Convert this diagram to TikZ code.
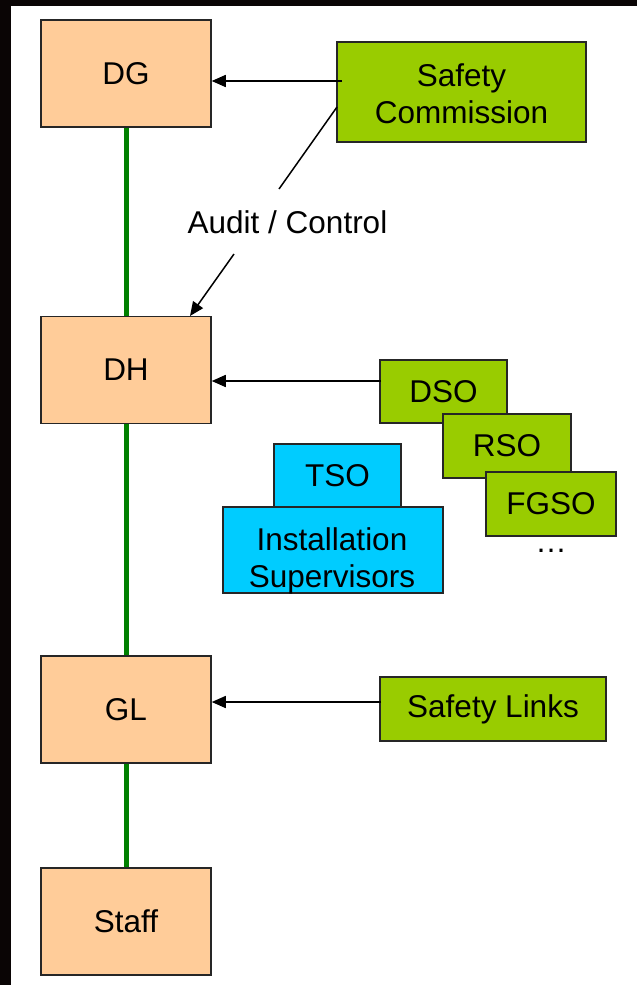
\documentclass[tikz,border=0pt]{standalone}
\usepackage{fontspec}
\setmainfont{Liberation Sans}
\usetikzlibrary{arrows.meta}
\definecolor{peach}{HTML}{FFCC99}
\definecolor{lime}{HTML}{99CC00}
\definecolor{skyc}{HTML}{00CCFF}
\definecolor{gline}{HTML}{008000}
\definecolor{nearblack}{HTML}{0A0505}
\begin{document}
\begin{tikzpicture}[x=1pt,y=-1pt,
  box/.style={draw=black!85, line width=1.5pt, inner sep=0pt, align=center,
    font=\fontsize{31.5}{37}\selectfont},
  orgbox/.style={box, fill=peach, minimum width=170pt, minimum height=107pt},
  greenbox/.style={box, fill=lime},
  bluebox/.style={box, fill=skyc},
  vline/.style={draw=gline, line width=5pt},
  arr/.style={draw=black, line width=1.5pt, -{Triangle[length=14pt,width=12pt]}},
  plain/.style={draw=black, line width=1.5pt},
  lbl/.style={font=\fontsize{31.5}{37}\selectfont, inner sep=0pt, align=center}]
\useasboundingbox (0,0) rectangle (637,985);
\fill[white] (0,0) rectangle (637,985);
\fill[nearblack] (0,0) rectangle (637,6);
\fill[nearblack] (0,0) rectangle (11,985);

% hierarchy
\node[orgbox] (DG) at (126,73.5) {DG};
\node[orgbox] (DH) at (126,370) {DH};
\node[orgbox] (GL) at (126,709.5) {GL};
\node[orgbox] (ST) at (126,921.5) {Staff};
\draw[vline] (DG.south) -- (DH.north);
\draw[vline] (DH.south) -- (GL.north);
\draw[vline] (GL.south) -- (ST.north);

% safety commission
\node[greenbox, minimum width=249pt, minimum height=100pt] (SC) at (461.5,92) {};
\node[lbl] (SCtext) at (461.5,94) {Safety\\Commission};
\coordinate (a1) at (342,81);
\draw[arr] (a1) -- (DG.east |- a1);

% audit / control
\coordinate (ac1) at (337,107);
\coordinate (ac2) at (279,189);
\coordinate (ac3) at (234,254);
\coordinate (ac4) at (190,316);
\draw[plain] (ac1) -- (ac2);
\node[lbl] (AC) at (287.5,222) {Audit / Control};
\draw[arr] (ac3) -- (ac4);

% safety officers
\node[greenbox, minimum width=127pt, minimum height=63pt] (DSO) at (443.5,391.5) {DSO};
\node[greenbox, minimum width=128pt, minimum height=64pt] (RSO) at (507,446) {RSO};
\node[greenbox, minimum width=130pt, minimum height=64pt] (FGSO) at (551,504) {FGSO};
\node[lbl] (dots) at (551,551) {…};
\coordinate (a2) at (381,381);
\draw[arr] (a2) -- (DH.east |- a2);

% TSO / installation supervisors
\node[bluebox, minimum width=127pt, minimum height=63pt] (TSO) at (337.5,475.5) {TSO};
\node[bluebox, minimum width=220pt, minimum height=86pt] (IS) at (333,550) {};
\node[lbl] (IStext) at (332,561) {Installation\\Supervisors};

% safety links
\node[greenbox, minimum width=226pt, minimum height=64pt] (SL) at (493,709) {Safety Links};
\coordinate (a3) at (381,702);
\draw[arr] (a3) -- (GL.east |- a3);
\end{tikzpicture}
\end{document}
